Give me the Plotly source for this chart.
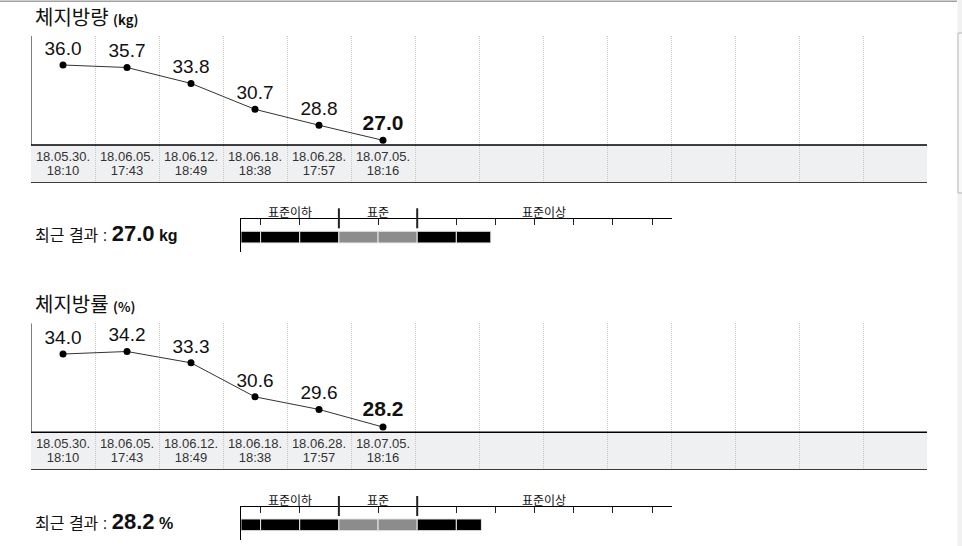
import plotly.graph_objects as go

W, H = 962, 546

# 측정 일시
dates = ["18.05.30.", "18.06.05.", "18.06.12.", "18.06.18.", "18.06.28.", "18.07.05."]
times = ["18:10", "17:43", "18:49", "18:38", "17:57", "18:16"]

# 측정값
fat_mass = [36.0, 35.7, 33.8, 30.7, 28.8, 27.0]   # 체지방량 (kg)
fat_pct = [34.0, 34.2, 33.3, 30.6, 29.6, 28.2]    # 체지방률 (%)

# 최근 결과 게이지 (11칸 눈금 기준 위치)
gauge_level = [6.38, 6.14]
zone_names = ["표준이하", "표준", "표준이상"]
zone_edges = [0, 2.5, 4.5, 11]

n_cols = 14
KR = "Noto Sans CJK KR"
NUM = "Liberation Sans, Arial, Noto Sans CJK KR"
GRAY = "#8c8c8c"


def px_x(p):
    return p / W


def px_y(p):
    return 1 - p / H


def ax_names(k):
    s = "" if k == 1 else str(k)
    return "xaxis" + s, "yaxis" + s, "x" + s, "y" + s


fig = go.Figure()
shapes = []
annotations = []


def add_chart(k, title, unit, values, top, axis, bottom, yr):
    xa, ya, xr, yref = ax_names(k)
    lo, split, hi = yr
    fig.update_layout({
        xa: dict(domain=[px_x(31), px_x(927)], range=[0, n_cols], anchor=yref,
                 tickmode="array", tickvals=list(range(1, n_cols)),
                 showticklabels=False, ticks="", showgrid=True,
                 gridcolor="#c6c6c6", griddash="1px,1px", gridwidth=1,
                 zeroline=False, showline=False, fixedrange=True),
        ya: dict(domain=[px_y(bottom), px_y(top)], range=[lo, hi], anchor=xr,
                 showgrid=False, showticklabels=False, zeroline=False,
                 showline=False, ticks="", fixedrange=True),
    })
    xs = [i + 0.5 for i in range(len(values))]
    labels = [f"{v:.1f}" for v in values]
    labels[-1] = f"<b>{labels[-1]}</b>"
    sizes = [19] * (len(values) - 1) + [21]
    fig.add_trace(go.Scatter(
        x=xs, y=values, mode="lines+markers+text", text=labels,
        textposition="top center", textfont=dict(family=NUM, size=sizes, color="#111"),
        line=dict(color="#333", width=1), marker=dict(color="black", size=7),
        cliponaxis=False, hoverinfo="skip", xaxis=xr, yaxis=yref))
    # 날짜 / 시간 라벨 (회색 띠 안)
    for frac, txt in [(0.33, dates), (0.70, times)]:
        fig.add_trace(go.Scatter(
            x=xs, y=[split - frac * (split - lo)] * len(xs), mode="text",
            text=txt, textposition="middle center",
            textfont=dict(family=NUM, size=13, color="#333"),
            hoverinfo="skip", cliponaxis=False, xaxis=xr, yaxis=yref))
    shapes.append(dict(type="rect", xref=xr, yref=yref, x0=0, x1=n_cols, y0=lo, y1=split,
                       fillcolor="#eff0f2", line_width=0, layer="below"))
    for yv in (lo, split):
        shapes.append(dict(type="line", xref=xr, yref=yref, x0=0, x1=n_cols, y0=yv, y1=yv,
                           line=dict(color="black", width=1.5)))
    shapes.append(dict(type="line", xref=xr, yref=yref, x0=0, x1=0, y0=split, y1=hi,
                       line=dict(color="black", width=1)))
    annotations.append(dict(
        xref="paper", yref="paper", x=px_x(33), y=px_y(top - 20), xanchor="left", yanchor="middle",
        text=f"{title} <b><span style='font-size:13px'>({unit})</span></b>",
        showarrow=False, font=dict(family=KR, size=20, color="#111")))


def add_gauge(k, level, value, unit, line_px):
    xa, ya, xr, yref = ax_names(k)
    fig.update_layout({
        xa: dict(domain=[px_x(241), px_x(671.7)], range=[0, 11], anchor=yref, side="top",
                 showline=True, linecolor="black", linewidth=1,
                 tickmode="array", tickvals=[i + 0.5 for i in range(11)],
                 ticks="inside", ticklen=6, tickcolor="#222", tickwidth=1,
                 showticklabels=False, showgrid=False, zeroline=False, fixedrange=True),
        ya: dict(domain=[px_y(line_px + 33), px_y(line_px)], range=[0, 1], anchor=xr,
                 showline=True, linecolor="black", linewidth=1,
                 showticklabels=False, showgrid=False, zeroline=False, ticks="",
                 fixedrange=True),
    })
    edges = [0] + [i + 0.5 for i in range(11)] + [11]
    bases, lens, cols = [], [], []
    for a, b in zip(edges[:-1], edges[1:]):
        if a >= level:
            break
        bases.append(a)
        lens.append(min(b, level) - a)
        cols.append(GRAY if zone_edges[1] <= a < zone_edges[2] else "black")
    fig.add_trace(go.Bar(
        x=lens, base=bases, y=[0.46] * len(lens), orientation="h", width=0.354,
        marker=dict(color=cols, line=dict(color="#e8e8e8", width=1)),
        hoverinfo="skip", xaxis=xr, yaxis=yref))
    for e in zone_edges[1:3]:
        shapes.append(dict(type="line", xref=xr, yref="paper", x0=e, x1=e,
                           y0=px_y(line_px + 9), y1=px_y(line_px - 11),
                           line=dict(color="#222", width=2)))
    for name, a, b in zip(zone_names, zone_edges[:-1], zone_edges[1:]):
        annotations.append(dict(
            xref=xr, yref="paper", x=(a + b) / 2, y=px_y(line_px - 8), text=name,
            showarrow=False, yanchor="middle", font=dict(family=KR, size=12, color="#111")))
    annotations.append(dict(
        xref="paper", yref="paper", x=px_x(33), y=px_y(line_px + 14), xanchor="left", yanchor="middle",
        text=(f"최근 결과 : <b><span style='font-size:22px'>{value:.1f}</span>"
              f"<span style='font-size:16px'> {unit}</span></b>"),
        showarrow=False, font=dict(family=NUM, size=16, color="#111")))


add_chart(1, "체지방량", "kg", fat_mass, 36, 145, 183, (21.897, 26.438, 39.466))
add_gauge(2, gauge_level[0], fat_mass[-1], "kg", 219.3)
add_chart(3, "체지방률", "%", fat_pct, 323.3, 432.3, 470, (24.79, 27.78, 36.44))
add_gauge(4, gauge_level[1], fat_pct[-1], "%", 507)

# 상단 회색 선 / 오른쪽 스크롤 영역
shapes.append(dict(type="line", xref="paper", yref="paper", x0=0, x1=px_x(957),
                   y0=px_y(1.3), y1=px_y(1.3), line=dict(color="#a0a0a0", width=1.5)))
shapes.append(dict(type="rect", xref="paper", yref="paper", x0=px_x(957.5), x1=1,
                   y0=0, y1=1, fillcolor="#f1f1f1", line_width=0))
shapes.append(dict(type="rect", xref="paper", yref="paper", x0=px_x(958), x1=1.01,
                   y0=px_y(193), y1=px_y(33), fillcolor="#f8f8f8",
                   line=dict(color="#b5b5b5", width=1)))

fig.update_layout(
    width=W, height=H,
    margin=dict(l=0, r=0, t=0, b=0),
    paper_bgcolor="white", plot_bgcolor="rgba(0,0,0,0)",
    showlegend=False,
    shapes=shapes, annotations=annotations,
)

fig.write_html("out.html", config={"displayModeBar": False},
               post_script="document.body.style.margin='0';document.body.style.overflow='hidden';")
